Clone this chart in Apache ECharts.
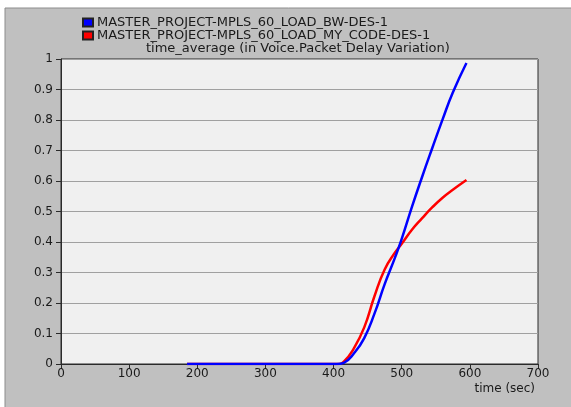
<!DOCTYPE html>
<html>
<head>
<meta charset="utf-8">
<script src="https://cdn.jsdelivr.net/npm/echarts@6/dist/echarts.min.js"></script>
<style>
  html, body { margin: 0; padding: 0; background: #fff; }
  #main { width: 571px; height: 407px; }
</style>
</head>
<body>
<div id="main"></div>
<script>
// sample times (sec)
var times = [185, 300, 405, 415, 430, 445, 460, 475, 490, 500, 515, 530, 545, 560, 575, 595];
// time_average packet delay variation
var bwValues = [0, 0, 0, 0.004, 0.035, 0.085, 0.165, 0.262, 0.348, 0.41, 0.515, 0.614, 0.709, 0.802, 0.89, 0.987];
var myCodeValues = [0, 0, 0, 0.008, 0.052, 0.12, 0.222, 0.31, 0.365, 0.394, 0.44, 0.478, 0.514, 0.545, 0.571, 0.603];
var seriesNames = ["MASTER_PROJECT-MPLS_60_LOAD_BW-DES-1", "MASTER_PROJECT-MPLS_60_LOAD_MY_CODE-DES-1"];
var chartTitle = "time_average (in Voice.Packet Delay Variation)";

function pairs(xs, ys) {
  return xs.map(function (x, i) { return [x, ys[i]]; });
}

var chart = echarts.init(document.getElementById("main"));
var font = "DejaVu Sans, Liberation Sans, sans-serif";

chart.setOption({
  animation: false,
  backgroundColor: "#ffffff",
  textStyle: { fontFamily: font },
  graphic: [
    {
      type: "rect",
      z: -10,
      shape: { x: 5, y: 8, width: 570, height: 402 },
      style: { fill: "#c0c0c0", stroke: "#8c8c8c", lineWidth: 1 }
    },
    {
      type: "text",
      left: 146,
      top: 42,
      style: { text: chartTitle, font: "13px " + font, fill: "#1a1a1a" }
    },
    {
      type: "text",
      right: 36,
      top: 383,
      style: { text: "time (sec)", font: "12px " + font, fill: "#1a1a1a" }
    }
  ],
  legend: {
    orient: "vertical",
    left: 77,
    top: 11,
    itemWidth: 10,
    itemHeight: 8,
    itemGap: 0,
    icon: "rect",
    data: seriesNames,
    textStyle: { fontSize: 13, lineHeight: 13, color: "#1a1a1a", fontFamily: font, padding: [0, 0, 0, -1] }
  },
  grid: {
    left: 61,
    right: 33,
    top: 59,
    bottom: 43,
    show: true,
    backgroundColor: "#f0f0f0",
    borderColor: "#2a2a2a",
    borderWidth: 1
  },
  xAxis: {
    type: "value",
    min: 0,
    max: 700,
    interval: 100,
    axisLine: { show: true, lineStyle: { color: "#2a2a2a" } },
    axisTick: { show: true, length: 5, lineStyle: { color: "#2a2a2a" } },
    axisLabel: { color: "#1a1a1a", fontSize: 12, margin: 4 },
    splitLine: { show: false }
  },
  yAxis: {
    type: "value",
    min: 0,
    max: 1,
    interval: 0.1,
    axisLine: { show: true, lineStyle: { color: "#2a2a2a" } },
    axisTick: { show: true, length: 5, lineStyle: { color: "#2a2a2a" } },
    axisLabel: { color: "#1a1a1a", fontSize: 12, margin: 8 },
    splitLine: { show: true, lineStyle: { color: "#a0a0a0", width: 1 } }
  },
  series: [
    {
      name: seriesNames[0],
      type: "line",
      z: 3,
      smooth: 0.5,
      showSymbol: false,
      data: pairs(times, bwValues),
      itemStyle: { color: "#0000ff", borderColor: "#222", borderWidth: 1 },
      lineStyle: { color: "#0000ff", width: 2.5 }
    },
    {
      name: seriesNames[1],
      type: "line",
      z: 2,
      smooth: 0.5,
      showSymbol: false,
      data: pairs(times, myCodeValues),
      itemStyle: { color: "#ff0000", borderColor: "#222", borderWidth: 1 },
      lineStyle: { color: "#ff0000", width: 2.5 }
    }
  ]
});
</script>
</body>
</html>
